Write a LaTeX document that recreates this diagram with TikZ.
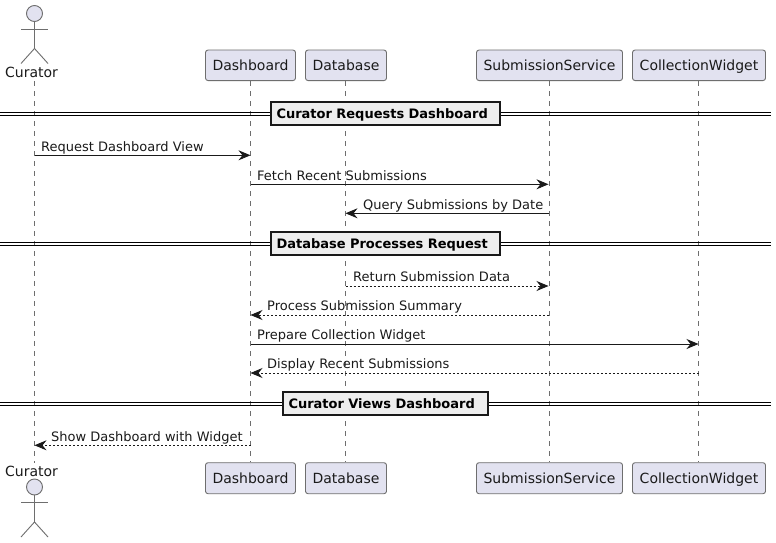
\documentclass[tikz,border=0pt]{standalone}
\usepackage{fontspec}
\setmainfont{DejaVu Sans}
\usetikzlibrary{arrows.meta}
\definecolor{partfill}{HTML}{E2E2F0}
\definecolor{partline}{HTML}{6E6E6E}
\definecolor{divfill}{HTML}{EEEEEE}
\definecolor{inkcol}{HTML}{1A1A1A}
\tikzset{
	partbox/.style={draw=partline, fill=partfill, line width=0.9pt, rounded corners=2.5pt, text=inkcol,
		inner sep=0pt, text height=13.6pt, text depth=3pt, font=\fontsize{14}{16}\selectfont},
	lifeline/.style={draw=partline, line width=0.7pt, dash pattern=on 5pt off 5pt},
	actorline/.style={draw=partline, line width=0.9pt},
	actorname/.style={inner sep=0pt, anchor=base, text=inkcol, font=\fontsize{14}{16}\selectfont},
	msg/.style={draw=inkcol, line width=0.9pt, -{Stealth[length=12pt, width=10pt, inset=4pt]}},
	msgback/.style={msg, dash pattern=on 2pt off 2pt},
	msglabel/.style={inner sep=0pt, anchor=base west, text=inkcol, font=\fontsize{13}{15}\selectfont},
	divbox/.style={draw=black!90, fill=divfill, line width=2pt, inner sep=0pt, text=black, align=left,
		text height=12.4pt, text depth=2.4pt, font=\fontsize{13}{15}\selectfont\bfseries},
	divline/.style={draw=black, line width=1pt},
	pics/stickman/.style={code={
		\draw[actorline, fill=partfill] (0,0) circle (8);
		\draw[actorline] (0,-8) -- (0,-35);
		\draw[actorline] (-13.5,-15.5) -- (13.5,-15.5);
		\draw[actorline] (-13.5,-50) -- (0,-35) -- (13.5,-50);
	}}
}
\begin{document}
\begin{tikzpicture}[x=1pt, y=1pt]
	\useasboundingbox (0,0) rectangle (776,-543);
	\fill[white] (0,0) rectangle (776,-543);
	% Participants, top and bottom
	\node[actorname] (curatorT) at (31.5,-77.7) {Curator};
	\node[actorname] (curatorB) at (31.5,-476) {Curator};
	\foreach \nm/\lbl/\xl/\xr in {dash/Dashboard/205.5/295.5, data/Database/305.5/386.5,
		subm/SubmissionService/476.5/622.5, coll/CollectionWidget/632.5/765.5} {
		\node[partbox, minimum width=\xr-\xl, minimum height=30.5] (\nm T) at ({(\xl+\xr)/2},-65.3) {\lbl};
		\node[partbox, minimum width=\xr-\xl, minimum height=31] (\nm B) at ({(\xl+\xr)/2},-478.2) {\lbl};
		% Lifelines
		\draw[lifeline] ([xshift=-0.4]\nm T.south) -- ([xshift=-0.4]\nm B.north);
	}
	\coordinate (curatorS) at (34.5,-81);
	\coordinate (curatorE) at (34.5,-462.5);
	\draw[lifeline] (curatorS) -- (curatorE);
	% Actors
	\pic at (34.5,-13.5) {stickman};
	\pic at (34.5,-487) {stickman};
	% Dividers
	\foreach \nm/\lbl/\yy/\bw in {one/Curator Requests Dashboard/113/229, two/Database Processes Request/243/229,
		three/Curator Views Dashboard/403/205} {
		\coordinate (\nm L) at (0,-\yy-1);
		\coordinate (\nm R) at (771,-\yy-1);
		\draw[divline] ([yshift=1.6]\nm L) -- ([yshift=1.6]\nm R);
		\draw[divline] ([yshift=-1.6]\nm L) -- ([yshift=-1.6]\nm R);
		\node[divbox, minimum width=\bw, minimum height=23, text width=\bw-11] (\nm) at (385.5,-\yy) {\lbl};
	}
	% Messages
	\foreach \nm/\xx/\tip/\yy/\st/\lx/\lbl in {
		a/34.5/250.5/155.3/msg/41/Request Dashboard View,
		b/250.5/548.5/184.3/msg/257/Fetch Recent Submissions,
		c/548.5/345.5/213.3/msg/363/Query Submissions by Date,
		d/345.5/548.5/286/msgback/353/Return Submission Data,
		e/548.5/250.5/315/msgback/267/Process Submission Summary,
		f/250.5/698.5/344/msg/257/Prepare Collection Widget,
		g/698.5/250.5/373/msgback/267/Display Recent Submissions,
		h/250.5/34.5/445.3/msgback/51/Show Dashboard with Widget} {
		\coordinate (\nm from) at (\xx,-\yy);
		\coordinate (\nm to) at (\tip,-\yy);
		\draw[\st] (\nm from) -- (\nm to);
		\node[msglabel] (\nm text) at (\lx,-\yy+4.2) {\lbl};
	}
\end{tikzpicture}
\end{document}
